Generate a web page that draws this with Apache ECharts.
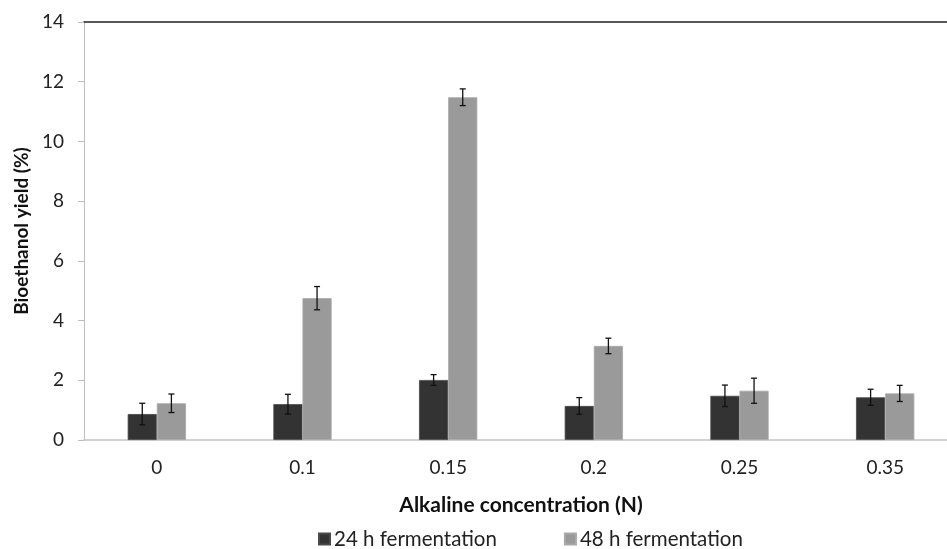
<!DOCTYPE html>
<html><head><meta charset="utf-8">
<script src="https://cdn.jsdelivr.net/npm/echarts@6/dist/echarts.min.js"></script>
<style>html,body{margin:0;padding:0;background:#fff}#c{width:947px;height:549px}</style>
</head><body><div id="c"></div>
<script>
const categories = ['0', '0.1', '0.15', '0.2', '0.25', '0.35'];
const yield24 = [0.87, 1.2, 2.01, 1.14, 1.48, 1.43];
const err24 = [0.36, 0.33, 0.18, 0.28, 0.36, 0.27];
const yield48 = [1.23, 4.75, 11.48, 3.15, 1.65, 1.56];
const err48 = [0.31, 0.39, 0.28, 0.26, 0.42, 0.27];
const seriesNames = ['24 h fermentation', '48 h fermentation'];
const yTicks = { min: 0, max: 14, interval: 2 };

const FONT = 'Lato';
const chart = echarts.init(document.getElementById('c'), null, { renderer: 'canvas' });

function errSeries(vals, errs, side) {
  return {
    type: 'custom',
    z: 5,
    silent: true,
    data: vals.map((v, i) => [i, v, errs[i]]),
    renderItem: function (params, api) {
      const i = api.value(0), v = api.value(1), e = api.value(2);
      const bw = api.size([1, 0])[0] * 0.2;
      const hi = api.coord([i, v + e]);
      const lo = api.coord([i, v - e]);
      const x = hi[0] + side * bw / 2;
      const cap = 3;
      const st = { stroke: '#111', lineWidth: 1.3 };
      return {
        type: 'group',
        children: [
          { type: 'line', shape: { x1: x, y1: hi[1], x2: x, y2: lo[1] }, style: st },
          { type: 'line', shape: { x1: x - cap, y1: hi[1], x2: x + cap, y2: hi[1] }, style: st },
          { type: 'line', shape: { x1: x - cap, y1: lo[1], x2: x + cap, y2: lo[1] }, style: st }
        ]
      };
    }
  };
}

chart.setOption({
  animation: false,
  textStyle: { fontFamily: FONT },
  grid: { left: 84, width: 874, top: 22, height: 418, containLabel: false, outerBoundsMode: 'none' },
  legend: {
    left: 318, top: 527, padding: 0,
    itemWidth: 11, itemHeight: 11, itemGap: 67,
    icon: 'rect',
    textStyle: { fontFamily: FONT, fontSize: 20.5, lineHeight: 24, color: '#222', padding: [0, 0, 0, -1] },
    data: seriesNames
  },
  xAxis: [{
    type: 'category',
    data: categories,
    axisLine: { show: true, lineStyle: { color: '#c4c4c4', width: 1.5 } },
    axisTick: { show: false },
    axisLabel: { fontFamily: FONT, fontSize: 19, color: '#222', margin: 18 },
    name: 'Alkaline concentration (N)',
    nameLocation: 'middle',
    nameGap: 55,
    nameTextStyle: { fontFamily: FONT, fontSize: 21, fontWeight: 'bold', color: '#111' }
  }, {
    type: 'category',
    position: 'top',
    data: categories,
    axisLine: { show: true, lineStyle: { color: '#222', width: 1.5 } },
    axisTick: { show: false },
    axisLabel: { show: false }
  }],
  yAxis: {
    type: 'value',
    min: yTicks.min, max: yTicks.max, interval: yTicks.interval,
    axisLine: { show: true, lineStyle: { color: '#bdbdbd' } },
    axisTick: { show: true, inside: false, length: 6, lineStyle: { color: '#bdbdbd' } },
    splitLine: { show: false },
    axisLabel: { fontFamily: FONT, fontSize: 19, color: '#222', margin: 20 },
    name: 'Bioethanol yield (%)',
    nameLocation: 'middle',
    nameGap: 51,
    nameTextStyle: { fontFamily: FONT, fontSize: 19, fontWeight: 'bold', color: '#111' }
  },
  series: [
    {
      name: seriesNames[0], type: 'bar', data: yield24, barWidth: '20%', barGap: '0%',
      itemStyle: { color: '#333333', borderColor: '#4a4a4a', borderWidth: 0.8 }
    },
    {
      name: seriesNames[1], type: 'bar', data: yield48, barWidth: '20%', barGap: '0%',
      itemStyle: { color: '#9a9a9a', borderColor: '#a8a8a8', borderWidth: 0.8 }
    },
    errSeries(yield24, err24, -1),
    errSeries(yield48, err48, 1)
  ]
});
</script>
</body></html>
